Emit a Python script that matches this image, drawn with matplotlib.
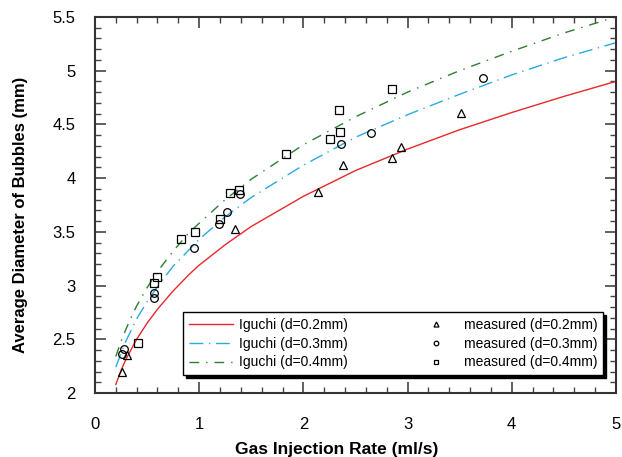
import matplotlib.pyplot as plt
import matplotlib

matplotlib.rcParams["font.family"] = ["Liberation Sans"]

# Iguchi model curves
q_model = [0.2, 0.25, 0.3, 0.35, 0.4, 0.5, 0.6, 0.75, 0.9, 1.0, 1.25, 1.5, 2.0,
           2.5, 3.0, 3.5, 4.0, 4.5, 5.0]
d02_model = [2.08, 2.21, 2.32, 2.41, 2.50, 2.65, 2.78, 2.95, 3.10, 3.19, 3.38, 3.55,
             3.83, 4.07, 4.27, 4.45, 4.61, 4.76, 4.90]
d03_model = [2.24, 2.37, 2.49, 2.59, 2.69, 2.85, 2.99, 3.18, 3.33, 3.43, 3.64, 3.82,
             4.12, 4.38, 4.59, 4.78, 4.96, 5.12, 5.26]
d04_model = [2.34, 2.48, 2.60, 2.71, 2.81, 2.98, 3.13, 3.32, 3.49, 3.58, 3.80, 3.99,
             4.31, 4.57, 4.80, 5.00, 5.18, 5.35, 5.50]

# measured points
q_m02 = [0.26, 0.31, 1.34, 2.14, 2.38, 2.85, 2.94, 3.51]
d_m02 = [2.20, 2.35, 3.53, 3.87, 4.12, 4.19, 4.29, 4.61]
q_m03 = [0.26, 0.28, 0.57, 0.57, 0.95, 1.19, 1.27, 1.39, 2.36, 2.65, 3.72]
d_m03 = [2.36, 2.41, 2.88, 2.93, 3.35, 3.57, 3.68, 3.85, 4.32, 4.42, 4.93]
q_m04 = [0.41, 0.57, 0.60, 0.83, 0.96, 1.20, 1.30, 1.38, 1.83, 2.26, 2.35, 2.34, 2.85]
d_m04 = [2.47, 3.02, 3.08, 3.43, 3.50, 3.62, 3.86, 3.89, 4.22, 4.36, 4.43, 4.63, 4.83]

fig = plt.figure(figsize=(6.22, 4.57), dpi=100)
ax = fig.add_axes([0.1527, 0.140, 0.8375, 0.823])

l1, = ax.plot(q_model, d02_model, color="#e8282a", lw=1.0, label="Iguchi (d=0.2mm)")
l2, = ax.plot(q_model, d03_model, color="#29abe2", lw=1.0, linestyle=(0, (10, 4, 1, 4)),
              label="Iguchi (d=0.3mm)")
l3, = ax.plot(q_model, d04_model, color="#2e7d32", lw=1.0, linestyle=(0, (7, 5, 1, 5)),
              label="Iguchi (d=0.4mm)")

m1, = ax.plot(q_m02, d_m02, "^", ms=6, mfc="none", mec="black", mew=0.9, ls="none",
              label="measured (d=0.2mm)")
m2, = ax.plot(q_m03, d_m03, "o", ms=5.5, mfc="none", mec="black", mew=0.9, ls="none",
              label="measured (d=0.3mm)")
m3, = ax.plot(q_m04, d_m04, "s", ms=6, mfc="none", mec="black", mew=0.9, ls="none",
              label="measured (d=0.4mm)")

ax.set_xlim(0, 5)
ax.set_ylim(2, 5.5)
ax.set_xticks([0, 1, 2, 3, 4, 5])
ax.set_xticklabels(["0", "1", "2", "3", "4", "5"])
ax.set_yticks([2, 2.5, 3, 3.5, 4, 4.5, 5, 5.5])
ax.set_yticklabels(["2", "2.5", "3", "3.5", "4", "4.5", "5", "5.5"])
ax.set_xticks([i * 0.2 for i in range(26)], minor=True)
ax.set_yticks([2 + i * 0.1 for i in range(36)], minor=True)
ax.tick_params(which="both", direction="in", top=True, right=True, labelsize=12,
               color="#444444")
ax.tick_params(which="major", length=8, width=1.2)
ax.tick_params(which="minor", length=4, width=1.0)
ax.tick_params(axis="x", pad=17)
ax.tick_params(axis="y", pad=14)
for s in ax.spines.values():
    s.set_linewidth(1.5)
    s.set_color("#333333")

ax.set_xlabel("Gas Injection Rate (ml/s)", fontsize=12.5, fontweight="bold")
ax.set_ylabel("Average Diameter of Bubbles (mm)", fontsize=12, fontweight="bold")
ax.xaxis.set_label_coords(0.4645, -0.130)
ax.yaxis.set_label_coords(-0.129, 0.473)

leg = ax.legend(handles=[l1, l2, l3, m1, m2, m3], ncol=2, loc="lower left",
                bbox_to_anchor=(0.169, 0.048, 0.806, 0.178), mode="expand",
                fontsize=10, markerscale=0.6, frameon=True, fancybox=False,
                shadow={"color": "black", "alpha": 1.0}, handlelength=3.2,
                borderaxespad=0, labelspacing=0.35, handletextpad=0.4)
leg.get_frame().set_edgecolor("black")
leg.get_frame().set_linewidth(1.0)

plt.savefig("out.png", dpi=100)
